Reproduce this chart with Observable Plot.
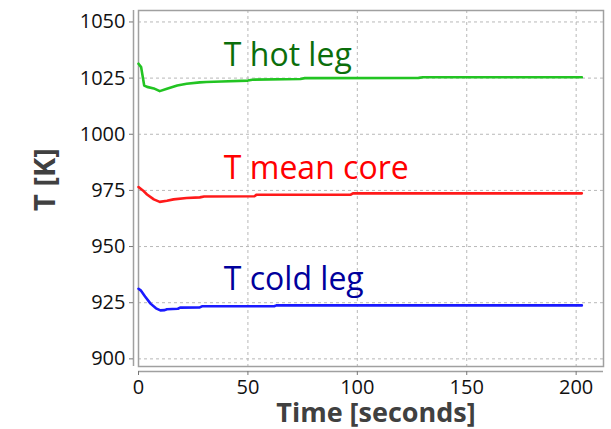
<!DOCTYPE html>
<html>
<head>
<meta charset="utf-8">
<script src="https://cdn.jsdelivr.net/npm/d3@7"></script>
<script src="https://cdn.jsdelivr.net/npm/@observablehq/plot@0.6"></script>
<style>
  html, body { margin: 0; padding: 0; background: #fff; }
</style>
</head>
<body>
<div id="chart"></div>
<script>
// ---- data ----
const xTicks = [0, 50, 100, 150, 200];
const yTicks = [900, 925, 950, 975, 1000, 1025, 1050];

const hotTime  = [0, 1.2, 2.6, 3.9, 7, 9.7, 13, 17.7, 22, 28, 31, 38, 50, 52, 74, 76, 128, 130, 202.6];
const hotTemp  = [1031.4, 1029.9, 1021.7, 1021.1, 1020.4, 1019.2, 1020.3, 1021.7, 1022.5, 1023.1, 1023.3, 1023.5, 1023.9, 1024.3, 1024.6, 1025.0, 1025.1, 1025.4, 1025.4];

const meanTime = [0, 2, 3.9, 7, 9.7, 13, 16, 22, 28, 30, 53, 54, 97, 98, 202.6];
const meanTemp = [976.5, 975.0, 973.2, 971.0, 969.9, 970.4, 971.0, 971.6, 971.9, 972.3, 972.4, 973.1, 973.1, 973.7, 973.7];

const coldTime = [0, 1, 3, 5.5, 8, 10, 12, 13, 18, 19, 28, 29, 62, 63, 202.6];
const coldTemp = [931.2, 930.5, 927.8, 924.6, 922.5, 921.6, 921.7, 922.1, 922.3, 922.8, 922.9, 923.4, 923.4, 923.8, 923.8];

const seriesNames = ["T hot leg", "T mean core", "T cold leg"];
const lineColors  = ["#22c422", "#ff1a1a", "#1a1aff"];
const textColors  = ["#0b6e0b", "#ff0000", "#00009c"];

// ---- build tidy table ----
const series = [
  {name: seriesNames[0], t: hotTime,  v: hotTemp},
  {name: seriesNames[1], t: meanTime, v: meanTemp},
  {name: seriesNames[2], t: coldTime, v: coldTemp}
];
const rows = series.flatMap(s => s.t.map((t, i) => ({series: s.name, time: t, temp: s.v[i]})));
const lastVal = s => s.v[s.v.length - 1];

const xDomain = [0, 212.5];
const yDomain = [896.6, 1055.1];
const labelTime = 39;
const labelDy = [-11, -14, -15];

const labelMarks = series.map((s, i) =>
  Plot.text([s], {
    x: () => labelTime, y: d => lastVal(d), text: d => d.name,
    textAnchor: "start", lineAnchor: "bottom", dy: labelDy[i],
    fill: textColors[i], fontSize: 32, fontFamily: "Open Sans"
  })
);

const chart = Plot.plot({
  width: 611,
  height: 429,
  marginLeft: 138,
  marginRight: 8,
  marginTop: 10,
  marginBottom: 63,
  style: {fontFamily: "Open Sans", background: "#fff", color: "#111"},
  x: {domain: xDomain},
  y: {domain: yDomain},
  color: {domain: seriesNames, range: lineColors},
  marks: [
    Plot.gridX(xTicks, {stroke: "#b8b8b8", strokeOpacity: 1, strokeDasharray: "3,3"}),
    Plot.gridY(yTicks, {stroke: "#b8b8b8", strokeOpacity: 1, strokeDasharray: "3,3"}),
    Plot.frame({stroke: "#a0a0a0", strokeWidth: 1.5}),
    Plot.ruleX([xDomain[0]], {dx: -5, stroke: "#a0a0a0", strokeWidth: 1.5}),
    Plot.ruleY([yDomain[0]], {dy: 5, stroke: "#a0a0a0", strokeWidth: 1.5}),
    Plot.axisX(xTicks, {tickSize: 4, tickPadding: 4, dy: 5, fontSize: 20, label: null, stroke: "#777", fill: "#111", tickFormat: d => String(d)}),
    Plot.axisY(yTicks, {tickSize: 4, tickPadding: 4, dx: -5, fontSize: 20, label: null, stroke: "#777", fill: "#111", tickFormat: d => String(d)}),
    Plot.line(rows, {x: "time", y: "temp", z: "series", stroke: "series", strokeWidth: 2.6}),
    ...labelMarks,
    Plot.text(["Time [seconds]"], {frameAnchor: "bottom", textAnchor: "middle", dx: 5, dy: 47, lineAnchor: "middle",
      fontSize: 27, fontWeight: "bold", fill: "#404040"}),
    Plot.text(["T [K]"], {frameAnchor: "left", textAnchor: "middle", lineAnchor: "middle", dx: -93, dy: -9, rotate: -90,
      fontSize: 29, fontWeight: "bold", fill: "#404040"})
  ]
});
document.getElementById("chart").appendChild(chart);
</script>
</body>
</html>
